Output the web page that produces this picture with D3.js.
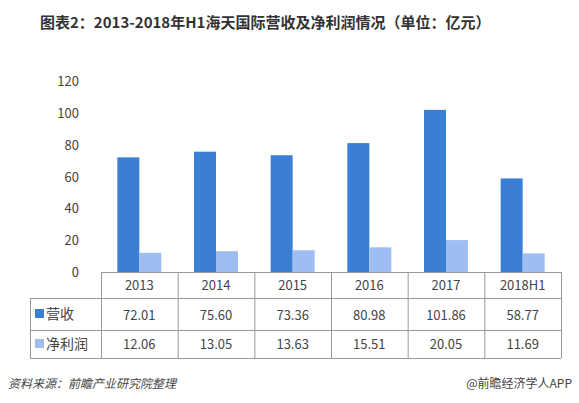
<!DOCTYPE html>
<html><head><meta charset="UTF-8">
<script src="https://cdn.jsdelivr.net/npm/d3@7"></script>
<style>body{margin:0;background:#fff;font-family:"Noto Sans CJK SC",sans-serif}</style>
</head><body><svg id="c" width="579" height="403"></svg>
<script>
var years = ["2013","2014","2015","2016","2017","2018H1"];
var revenue = [72.01,75.60,73.36,80.98,101.86,58.77];
var profit = [12.06,13.05,13.63,15.51,20.05,11.69];
var seriesNames = ["营收","净利润"];
var colors = ["#3b7fd4","#9ebdf0"];
var yTicks = [0,20,40,60,80,100,120];

var svg = d3.select("#c");
svg.append("text").attr("x",40).attr("y",28).attr("font-size",15).attr("font-weight","bold")
  .attr("fill","#333").text("图表2：2013-2018年H1海天国际营收及净利润情况（单位：亿元）");

var x = d3.scaleBand().domain(years).range([101,561]);
var y = d3.scaleLinear().domain([0,120]).range([272,81]);

svg.append("g").selectAll("text").data(yTicks).enter().append("text")
  .attr("x",79).attr("y",d=>y(d)+5).attr("text-anchor","end").attr("font-size",13).attr("fill","#444").text(d=>d);

var bw = 22;
[revenue,profit].forEach(function(s,k){
  svg.append("g").selectAll("rect").data(s).enter().append("rect")
    .attr("x",(d,i)=>x(years[i])+x.bandwidth()/2-bw+k*bw).attr("width",bw)
    .attr("y",d=>y(d)).attr("height",d=>y(0)-y(d)).attr("fill",colors[k]);
});

// table
var rows = [272,298,330,358];
var g = svg.append("g").attr("stroke","#999").attr("stroke-width",1);
g.append("line").attr("x1",101).attr("x2",561).attr("y1",272.5).attr("y2",272.5);
[298,330,358].forEach(r=>g.append("line").attr("x1",30).attr("x2",561).attr("y1",r+.5).attr("y2",r+.5));
g.append("line").attr("x1",30.5).attr("x2",30.5).attr("y1",298).attr("y2",358);
years.concat(["end"]).forEach(function(d,i){
  var xx = i<years.length ? x(d) : 561;
  g.append("line").attr("x1",xx+.5).attr("x2",xx+.5).attr("y1",272).attr("y2",358);
});
var t = svg.append("g").attr("font-size",13).attr("fill","#444").attr("text-anchor","middle");
years.forEach(function(d,i){
  t.append("text").attr("x",x(d)+x.bandwidth()/2).attr("y",290).text(d);
  t.append("text").attr("x",x(d)+x.bandwidth()/2).attr("y",320).text(revenue[i].toFixed(2));
  t.append("text").attr("x",x(d)+x.bandwidth()/2).attr("y",349).text(profit[i].toFixed(2));
});
seriesNames.forEach(function(n,k){
  var cy = k==0?314:344;
  svg.append("rect").attr("x",35).attr("y",cy-5).attr("width",9).attr("height",9).attr("fill",colors[k]);
  svg.append("text").attr("x",46).attr("y",cy+5).attr("font-size",14).attr("fill","#444").text(n);
});

svg.append("text").attr("x",8).attr("y",388).attr("font-size",12).attr("font-style","italic").attr("fill","#444").text("资料来源：前瞻产业研究院整理");
svg.append("text").attr("x",572).attr("y",388).attr("font-size",12).attr("text-anchor","end").attr("fill","#444").text("@前瞻经济学人APP");
</script></body></html>
